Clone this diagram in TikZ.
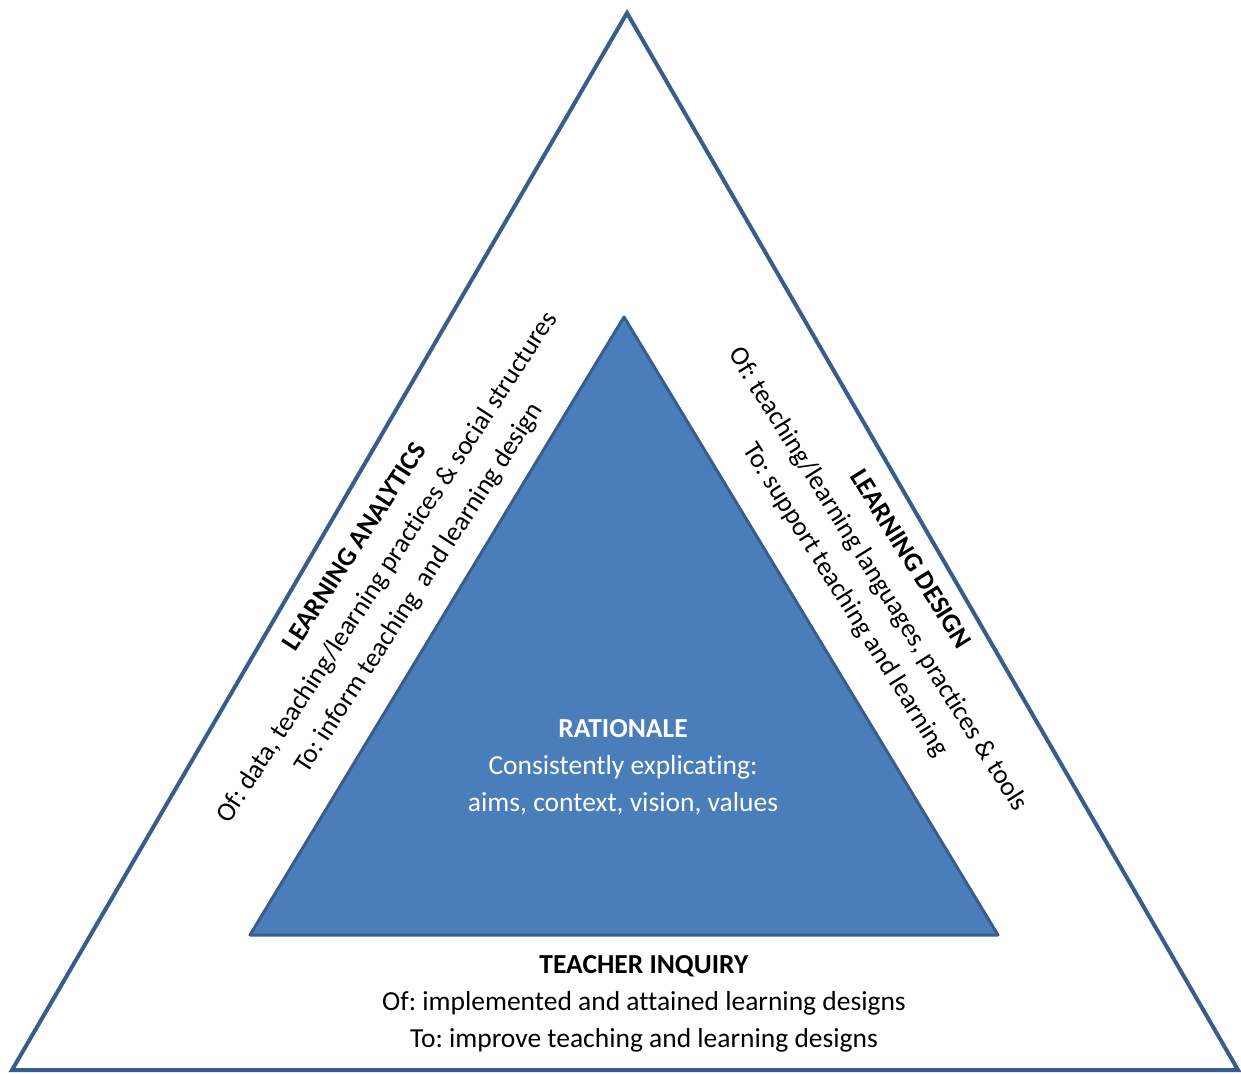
\documentclass[tikz,border=0pt]{standalone}
\usepackage{fontspec}
\setmainfont{Carlito}[Ligatures=CommonOff]
\frenchspacing
\definecolor{edgeblue}{HTML}{385D8A}
\definecolor{fillblue}{HTML}{4A7EBB}
\begin{document}
\begin{tikzpicture}[x=1pt,y=-1pt,
  label text/.style={align=center,inner sep=0pt,
    font=\fontsize{27.5}{37}\selectfont},
  side text/.style={label text,font=\fontsize{26.8}{38}\selectfont},
  edge line/.style={draw=edgeblue,line width=4pt,line join=miter}]
\useasboundingbox[fill=white] (0,0) rectangle (1241,1073);
% outer triangle
\coordinate (oTop) at (627,13);
\coordinate (oLeft) at (12,1070);
\coordinate (oRight) at (1238,1070);
\draw[edge line] (oTop) -- (oLeft) -- (oRight) -- cycle;
% inner triangle: rationale
\coordinate (iTop) at (624,317);
\coordinate (iLeft) at (250,935);
\coordinate (iRight) at (998,935);
\filldraw[fill=fillblue,draw=edgeblue,line width=3pt,line join=round]
  (iTop) -- (iLeft) -- (iRight) -- cycle;
% texts
\node[label text,text=white] (rationale) at (623,767)
  {\textbf{RATIONALE}\\Consistently explicating:\\aims, context, vision, values};
\node[label text] (inquiry) at (644,1004)
  {\textbf{TEACHER INQUIRY}\\Of: implemented and attained learning designs\\To: improve teaching and learning designs};
\node[side text,rotate=57] (analytics) at (388,568)
  {\textbf{LEARNING ANALYTICS}\\Of: data, teaching/learning practices \& social structures\\To: inform teaching\ \ and learning design};
\node[side text,rotate=-58] (design) at (877,580)
  {\textbf{LEARNING DESIGN}\\Of: teaching/learning languages, practices \& tools\\To: support teaching and learning};
\end{tikzpicture}
\end{document}
